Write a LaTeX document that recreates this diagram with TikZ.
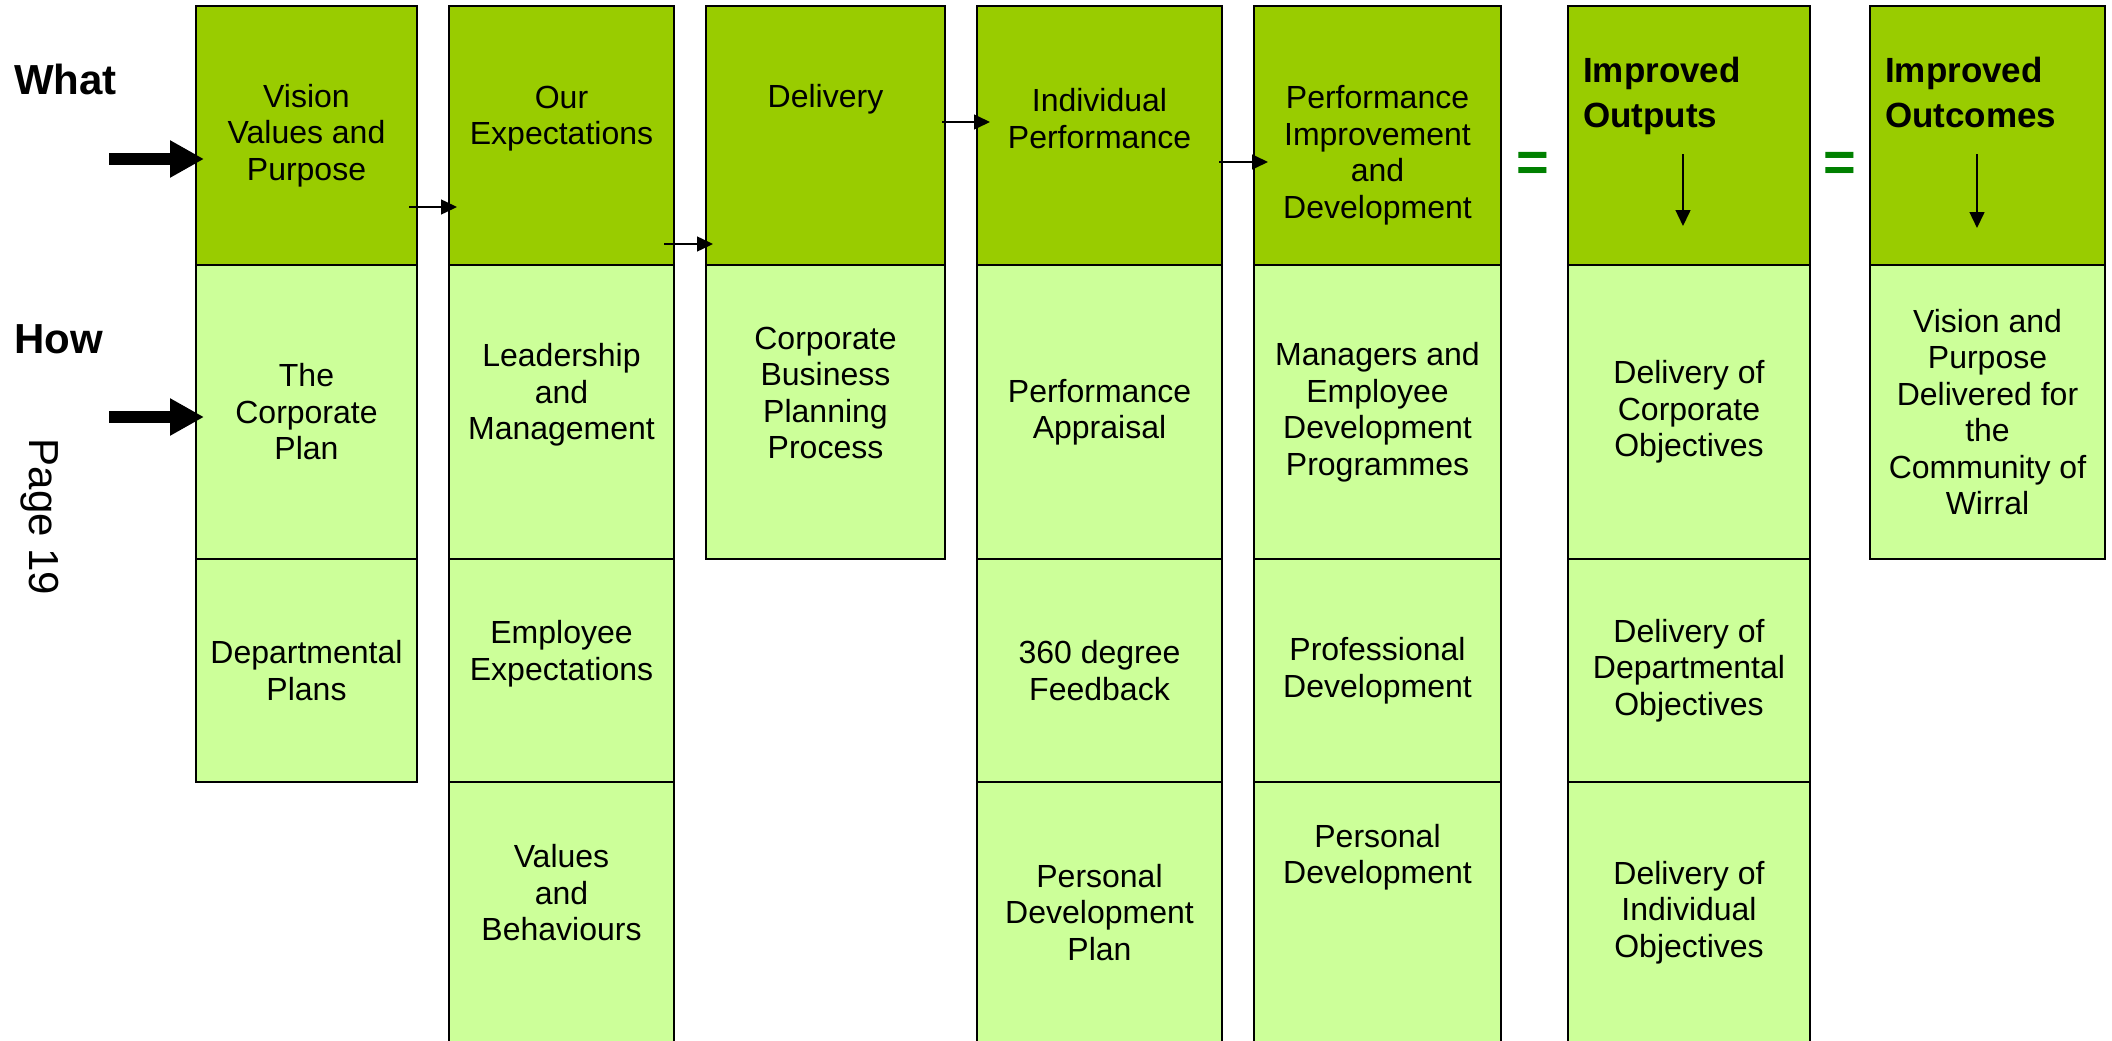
\documentclass[tikz,border=0pt]{standalone}
\usepackage{fontspec}
\setmainfont{Liberation Sans}
\usetikzlibrary{positioning,arrows.meta}

\definecolor{whatgreen}{HTML}{99CC00}
\definecolor{howgreen}{HTML}{CCFF99}
\definecolor{eqgreen}{HTML}{008000}

\begin{document}
\begin{tikzpicture}[x=1pt,y=-1pt,node distance=32pt,
    cell/.style={draw,line width=2.5pt,outer sep=0pt,inner sep=0pt,align=center,
        font=\fontsize{32}{36.5}\selectfont},
    what/.style={cell,fill=whatgreen,minimum height=259pt},
    how/.style={cell,fill=howgreen},
    txt/.style={align=center,inner sep=0pt,font=\fontsize{32}{36.5}\selectfont},
    head/.style={inner sep=0pt,font=\bfseries\fontsize{42}{48}\selectfont},
    big/.style={anchor=north west,inner sep=0pt,align=left,font=\bfseries\fontsize{35}{45}\selectfont},
    equals/.style={text=eqgreen,font=\bfseries\fontsize{56}{56}\selectfont},
    flow/.style={-{Triangle[length=16pt,width=15pt]},line width=1.5pt},
    bigarrow/.style={-{Triangle[length=34pt,width=35pt]},line width=12pt}]

\useasboundingbox (0,0) rectangle (2112,1041);

% what row
\node[what,minimum width=221pt,anchor=north west] (vision) at (196,6) {Vision\\Values and\\Purpose};
\node[what,minimum width=225pt,right=of vision]   (expect)   {};
\node[what,minimum width=239pt,right=of expect]   (delivery) {};
\node[what,minimum width=245pt,right=of delivery] (indiv)    {};
\node[what,minimum width=247pt,right=of indiv]    (perfimp)  {};
\node[what,minimum width=242pt,right=67pt of perfimp] (outputs)  {};
\node[what,minimum width=235pt,right=60pt of outputs] (outcomes) {};

\node[txt] (expecttxt)   at ([yshift=17pt]expect.center)     {Our\\Expectations};
\node[txt] (deliverytxt) at ([yshift=36.5pt]delivery.center) {Delivery};
\node[txt] (indivtxt)    at ([yshift=17pt]indiv.center)      {Individual\\Performance};
\node[txt] (perfimptxt)  at ([yshift=-19.5pt]perfimp.center) {Performance\\Improvement\\and\\Development};
\node[big] (outputstxt)  at ([xshift=15pt,yshift=-51pt]outputs.north west)  {Improved\\Outputs};
\node[big] (outcomestxt) at ([xshift=15pt,yshift=-51pt]outcomes.north west) {Improved\\Outcomes};

% how rows
\node[how,minimum width=221pt,minimum height=294pt,below=0pt of vision]   (corpplan)  {The\\Corporate\\Plan};
\node[how,minimum width=221pt,minimum height=223pt,below=0pt of corpplan] (deptplans) {Departmental\\Plans};

\node[how,minimum width=225pt,minimum height=294pt,below=0pt of expect]     (leadership) {};
\node[how,minimum width=225pt,minimum height=223pt,below=0pt of leadership] (empexp)     {};
\node[how,minimum width=225pt,minimum height=261pt,below=0pt of empexp]     (values)     {};
\node[txt] (leadershiptxt) at ([yshift=17pt]leadership.center) {Leadership\\and\\Management};
\node[txt] (empexptxt)     at ([yshift=17pt]empexp.center)     {Employee\\Expectations};
\node[txt] (valuestxt)     at ([yshift=19.5pt]values.center)   {Values\\and\\Behaviours};

\node[how,minimum width=239pt,minimum height=294pt,below=0pt of delivery] (planning) {};
\node[txt] (planningtxt) at ([yshift=19pt]planning.center) {Corporate\\Business\\Planning\\Process};

\node[how,minimum width=245pt,minimum height=294pt,below=0pt of indiv]     (appraisal) {Performance\\Appraisal};
\node[how,minimum width=245pt,minimum height=223pt,below=0pt of appraisal] (feedback)  {360 degree\\Feedback};
\node[how,minimum width=245pt,minimum height=261pt,below=0pt of feedback]  (pdp)       {Personal\\Development\\Plan};

\node[how,minimum width=247pt,minimum height=294pt,below=0pt of perfimp]  (managers) {Managers and\\Employee\\Development\\Programmes};
\node[how,minimum width=247pt,minimum height=223pt,below=0pt of managers] (profdev)  {Professional\\Development};
\node[how,minimum width=247pt,minimum height=261pt,below=0pt of profdev]  (persdev)  {};
\node[txt] (persdevtxt) at ([yshift=55.5pt]persdev.center) {Personal\\Development};

\node[how,minimum width=242pt,minimum height=294pt,below=0pt of outputs] (corpobj) {Delivery of\\Corporate\\Objectives};
\node[how,minimum width=242pt,minimum height=223pt,below=0pt of corpobj] (deptobj) {Delivery of\\Departmental\\Objectives};
\node[how,minimum width=242pt,minimum height=261pt,below=0pt of deptobj] (indobj)  {Delivery of\\Individual\\Objectives};

\node[how,minimum width=235pt,minimum height=294pt,below=0pt of outcomes] (wirral) {Vision and\\Purpose\\Delivered for\\the\\Community of\\Wirral};

% side labels
\node[head,anchor=base west] (what) at (14,95)  {What};
\node[head,anchor=base west] (how)  at (14,353) {How};
\node[rotate=-90,inner sep=0pt,font=\fontsize{42}{48}\selectfont] (page) at (40,517) {Page 19};

\node[equals] (eq1) at (1533,167) {=};
\node[equals] (eq2) at (1840,167) {=};

% arrows
\coordinate (whatin) at (109,159);
\coordinate (howin)  at (109,417);
\draw[bigarrow] (whatin) -- ([xshift=8pt,yshift=-23.5pt]vision.west);
\draw[bigarrow] (howin)  -- ([xshift=8pt,yshift=-5pt]corpplan.west);

\draw[flow] ([xshift=-8pt,yshift=-71.5pt]vision.east)    -- ([xshift=8pt,yshift=-71.5pt]expect.west);
\draw[flow] ([xshift=-10pt,yshift=-108.5pt]expect.east)  -- ([xshift=7pt,yshift=-108.5pt]delivery.west);
\draw[flow] ([xshift=-3pt,yshift=13.5pt]delivery.east)   -- ([xshift=13pt,yshift=13.5pt]indiv.west);
\draw[flow] ([xshift=-3pt,yshift=-26.5pt]indiv.east)     -- ([xshift=14pt,yshift=-26.5pt]perfimp.west);
\draw[flow] ([xshift=-6pt,yshift=-148pt]outputs.north)   -- ([xshift=-6pt,yshift=-220pt]outputs.north);
\draw[flow] ([xshift=-10.5pt,yshift=-148pt]outcomes.north) -- ([xshift=-10.5pt,yshift=-222pt]outcomes.north);
\end{tikzpicture}
\end{document}
